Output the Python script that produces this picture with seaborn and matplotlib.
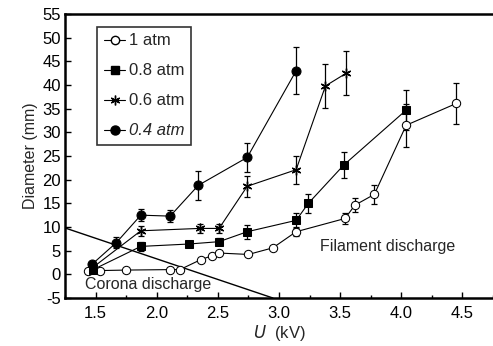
import matplotlib
matplotlib.use("Agg")
import matplotlib.pyplot as plt
import seaborn as sns
import numpy as np
import pandas as pd
from matplotlib.lines import Line2D
from matplotlib.ticker import MultipleLocator

sns.set_theme(style="ticks")
plt.rcParams['font.family'] = ['Liberation Sans', 'DejaVu Sans']
plt.rcParams['axes.unicode_minus'] = False

# 1 atm
u_1 = [1.44, 1.54, 1.75, 2.11, 2.19, 2.36, 2.45, 2.51, 2.75, 2.95, 3.14, 3.54, 3.62, 3.78, 4.04, 4.45]
d_1 = [0.8, 0.8, 0.9, 1.0, 1.0, 3.1, 3.9, 4.5, 4.2, 5.6, 9.0, 11.8, 14.6, 16.9, 31.5, 36.1]
e_1 = [0.3, 0.3, 0.3, 0.3, 0.3, 0.3, 0.3, 0.3, 0.3, 0.3, 0.8, 1.2, 1.5, 2.0, 4.5, 4.4]
# 0.8 atm
u_08 = [1.48, 1.87, 2.26, 2.51, 2.74, 3.14, 3.24, 3.53, 4.04]
d_08 = [1.0, 5.9, 6.4, 6.9, 9.0, 11.4, 15.0, 23.1, 34.7]
e_08 = [0.5, 1.0, 0.5, 0.7, 1.5, 1.5, 2.0, 2.8, 4.2]
# 0.6 atm
u_06 = [1.48, 1.87, 2.35, 2.51, 2.74, 3.14, 3.38, 3.55]
d_06 = [1.5, 9.2, 9.7, 9.7, 18.6, 22.1, 39.8, 42.5]
e_06 = [0.5, 1.0, 1.0, 1.0, 2.2, 3.0, 4.7, 4.6]
# 0.4 atm
u_04 = [1.47, 1.67, 1.87, 2.11, 2.34, 2.74, 3.14]
d_04 = [2.1, 6.7, 12.5, 12.3, 18.8, 24.7, 43.0]
e_04 = [0.5, 1.2, 1.3, 1.3, 3.0, 3.0, 5.0]

labels = ["1 atm", "0.8 atm", "0.6 atm", "0.4 atm"]

# boundary line between regimes
line_u = [1.25, 2.95]
line_d = [9.8, -5.0]

fig = plt.figure(figsize=(4.93, 3.46), dpi=100)
ax = fig.add_axes([65/493, 48/346, (493-65)/493, (298-14)/346])

series = [
    (u_1, d_1, e_1, dict(marker='o', markerfacecolor='white', markeredgecolor='black', markersize=6)),
    (u_08, d_08, e_08, dict(marker='s', markerfacecolor='black', markeredgecolor='black', markersize=5.5)),
    (u_06, d_06, e_06, dict(marker=(6, 2, 0), markerfacecolor='black', markeredgecolor='black', markersize=7, markeredgewidth=1.0)),
    (u_04, d_04, e_04, dict(marker='o', markerfacecolor='black', markeredgecolor='black', markersize=6.5)),
]

handles = []
for (u, d, e, mk), lab in zip(series, labels):
    df = pd.DataFrame({"U": u, "D": d})
    ax.errorbar(u, d, yerr=e, fmt='none', ecolor='black', elinewidth=0.9, capsize=2.5, capthick=0.9, zorder=2)
    sns.lineplot(data=df, x="U", y="D", ax=ax, color='black', linewidth=0.8, sort=False,
                 estimator=None, zorder=3, **mk)
    handles.append(Line2D([0], [0], color='black', linewidth=0.8, **mk))

ax.plot(line_u, line_d, color='black', linewidth=1.0, zorder=1)

ax.text(1.93, -2.1, "Corona discharge", fontsize=11.5, ha='center', va='center')
ax.text(3.89, 5.9, "Filament discharge", fontsize=11.5, ha='center', va='center')

ax.set_xlim(1.25, 4.75)
ax.set_ylim(-5, 55)
ax.xaxis.set_minor_locator(MultipleLocator(0.25))
ax.yaxis.set_major_locator(MultipleLocator(5))
ax.set_xticks(np.arange(1.5, 4.6, 0.5))
ax.set_xticklabels(["1.5", "2.0", "2.5", "3.0", "3.5", "4.0", "4.5"])
ax.tick_params(axis='both', which='both', direction='in', labelsize=12, color='black', labelcolor='black')
ax.tick_params(axis='both', which='major', length=4, width=1)
ax.tick_params(axis='x', which='minor', length=2.5, width=1)
ax.tick_params(axis='x', pad=6)
ax.tick_params(axis='y', pad=3)

for s in ['left', 'bottom', 'top']:
    ax.spines[s].set_color('black')
    ax.spines[s].set_linewidth(1.8)
ax.spines['right'].set_visible(False)

ax.set_xlabel("$\\it{U}$  (kV)", fontsize=12, labelpad=1)
ax.set_ylabel("Diameter (mm)", fontsize=11.5, labelpad=3)

leg = ax.legend(handles, labels, loc='upper left', bbox_to_anchor=(0.075, 0.955),
                frameon=True, fancybox=False, fontsize=12, labelspacing=0.9,
                handlelength=1.3, handletextpad=0.2, borderpad=0.4, borderaxespad=0)
leg.get_frame().set_edgecolor('black')
leg.get_frame().set_linewidth(1.2)
leg.get_texts()[3].set_style('italic')

fig.savefig("out.png", dpi=100)
